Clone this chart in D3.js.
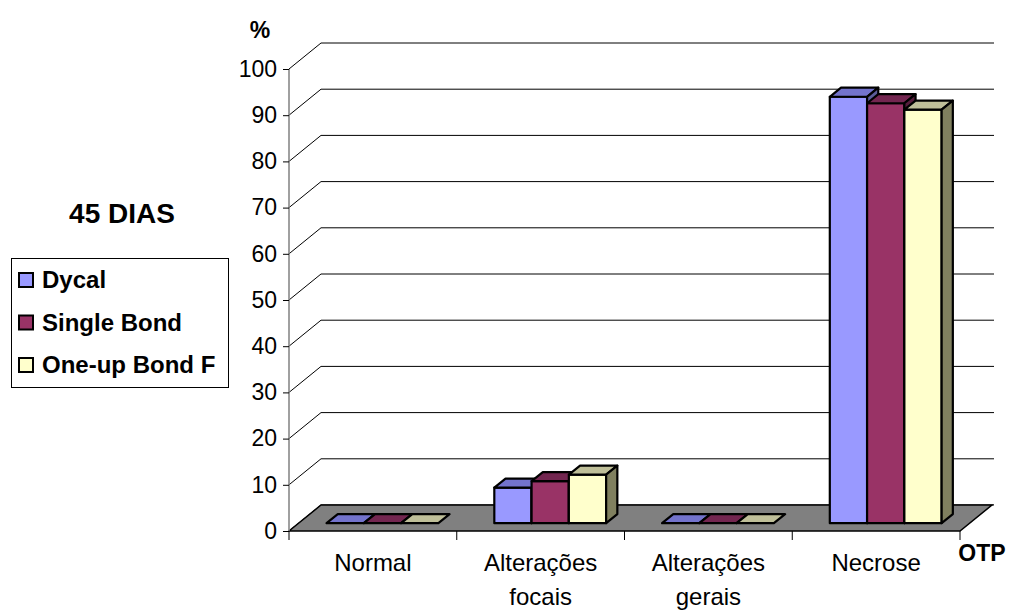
<!DOCTYPE html>
<html><head><meta charset="utf-8">
<script src="https://cdn.jsdelivr.net/npm/d3@7"></script>
<style>body{margin:0;background:#fff;} svg{display:block;font-family:"Liberation Sans",Arial,sans-serif;}</style>
</head><body><svg id="c" width="1012" height="612"></svg>
<script>
const categories = ["Normal", "Alterações focais", "Alterações gerais", "Necrose"];
const categoryLines = [["Normal"], ["Alterações", "focais"], ["Alterações", "gerais"], ["Necrose"]];
const seriesNames = ["Dycal", "Single Bond", "One-up Bond F"];
const dycal = [0, 7.7, 0, 92.3];
const singleBond = [0, 9.1, 0, 90.9];
const oneUp = [0, 10.5, 0, 89.5];
const yTicks = [0, 10, 20, 30, 40, 50, 60, 70, 80, 90, 100];
const frontColors = ["#9999FF", "#993366", "#FFFFCC"];
const topColors = ["#7373CC", "#732650", "#BFBF99"];
const sideColors = ["#5C5C99", "#561C3C", "#80805F"];

const seriesValues = [dycal, singleBond, oneUp];
const svg = d3.select("#c");
const DX = 32, DY = 26, F0 = 0.3, F1 = 0.65;
const x = d3.scaleBand().domain(categories).range([289, 960]).paddingInner(0).paddingOuter(0);
const xs = d3.scaleBand().domain(seriesNames).range([0, x.bandwidth()]).paddingInner(0).paddingOuter(0.75);
const y = d3.scaleLinear().domain([0, 100]).range([531, 69]);
const P = (px, v, f) => [px + f * DX, y(v) - f * DY];
const poly = pts => "M" + pts.map(p => p.join(",")).join("L") + "Z";

// gridlines (left wall diagonal + back wall)
const g = svg.append("g");
yTicks.forEach(t => {
  g.append("path").attr("d", `M${289},${y(t)}L${289+DX},${y(t)-DY}L${960+DX+2},${y(t)-DY}`)
    .attr("fill", "none").attr("stroke", "#000").attr("stroke-width", 1);
});
// floor
svg.append("path").attr("d", poly([P(289,0,0), P(960,0,0), P(960,0,1), P(289,0,1)]))
  .attr("fill", "#808080").attr("stroke", "#000").attr("stroke-width", 1.5);

// y axis
svg.append("line").attr("x1", 289).attr("x2", 289).attr("y1", y(0)).attr("y2", y(100))
  .attr("stroke", "#808080").attr("stroke-width", 1.5);
const yAxis = d3.axisLeft(y).tickValues(yTicks).tickSize(6).tickPadding(6).tickFormat(d3.format("d"));
const ya = svg.append("g").attr("transform", "translate(289,0)").call(yAxis);
ya.select(".domain").remove();
ya.selectAll(".tick line").attr("stroke", "#000");
ya.selectAll(".tick text").attr("font-size", 23).attr("font-family", "Liberation Sans, Arial").attr("fill", "#000");

// x axis ticks
const xt = categories.map(c => x(c)).concat([960]);
svg.selectAll(".xt").data(xt).enter().append("line")
  .attr("x1", d => d).attr("x2", d => d).attr("y1", y(0)).attr("y2", y(0) + 9)
  .attr("stroke", "#000").attr("stroke-width", 1);
// bars
categories.forEach((c, ci) => {
  seriesNames.forEach((s, si) => {
    const v = seriesValues[si][ci];
    const x0 = x(c) + xs(s), x1 = x0 + xs.bandwidth();
    const bg = svg.append("g").attr("stroke", "#000").attr("stroke-width", 2.2).attr("stroke-linejoin", "round");
    if (v === 0) {
      bg.append("path").attr("d", poly([P(x0,0,F0), P(x1,0,F0), P(x1,0,F1), P(x0,0,F1)])).attr("fill", topColors[si]);
    } else {
      bg.append("path").attr("d", poly([P(x0,0,F0), P(x1,0,F0), P(x1,v,F0), P(x0,v,F0)])).attr("fill", frontColors[si]);
      bg.append("path").attr("d", poly([P(x0,v,F0), P(x1,v,F0), P(x1,v,F1), P(x0,v,F1)])).attr("fill", topColors[si]);
      bg.append("path").attr("d", poly([P(x1,0,F0), P(x1,0,F1), P(x1,v,F1), P(x1,v,F0)])).attr("fill", sideColors[si]);
    }
  });
});
// category labels
categories.forEach((c, ci) => {
  const t = svg.append("text").attr("x", x(c) + x.bandwidth() / 2).attr("y", 571)
    .attr("text-anchor", "middle").attr("font-size", 24).attr("fill", "#000");
  categoryLines[ci].forEach((l, li) => t.append("tspan").attr("x", x(c) + x.bandwidth() / 2).attr("dy", li ? 34 : 0).text(l));
});
svg.append("text").attr("x", 982).attr("y", 561).attr("text-anchor", "middle").attr("font-size", 23).attr("font-weight", "bold").text("OTP");
svg.append("text").attr("x", 260).attr("y", 38).attr("text-anchor", "middle").attr("font-size", 23).attr("font-weight", "bold").text("%");
svg.append("text").attr("x", 122).attr("y", 223).attr("text-anchor", "middle").attr("font-size", 28).attr("font-weight", "bold").text("45 DIAS");
// legend
const lg = svg.append("g");
lg.append("rect").attr("x", 11.5).attr("y", 258.5).attr("width", 217).attr("height", 129).attr("fill", "#fff").attr("stroke", "#000").attr("stroke-width", 1);
seriesNames.forEach((s, i) => {
  const cy = 280 + i * 42.5;
  lg.append("rect").attr("x", 19).attr("y", cy - 7).attr("width", 14).attr("height", 14).attr("fill", frontColors[i]).attr("stroke", "#000").attr("stroke-width", 2);
  lg.append("text").attr("x", 42).attr("y", cy + 8).attr("font-size", 24).attr("font-weight", "bold").text(s);
});
</script></body></html>
